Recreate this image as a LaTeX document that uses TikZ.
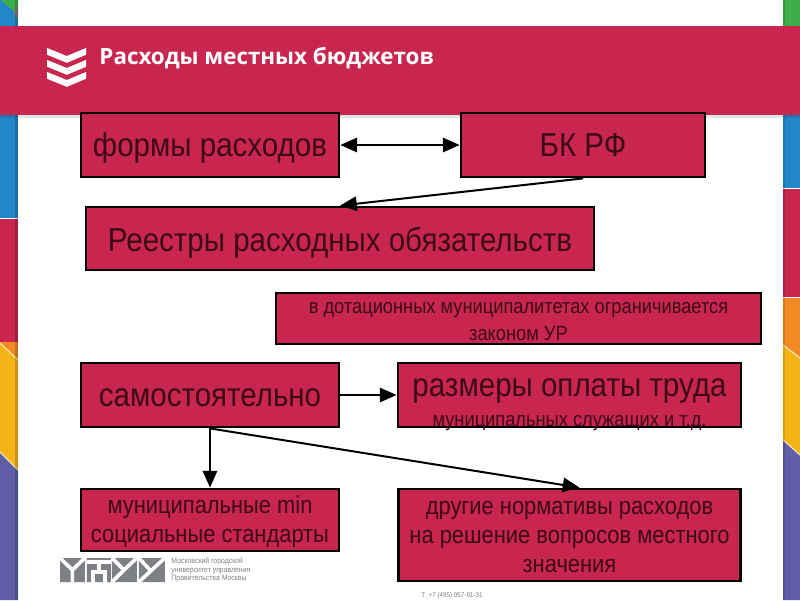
\documentclass[tikz,border=0pt]{standalone}
\usepackage{fontspec}
\setmainfont[FakeStretch=0.89]{Liberation Sans}
\newfontfamily\titlefont{Open Sans}
\usepackage{xcolor}
\usetikzlibrary{arrows.meta}
\definecolor{crimson}{HTML}{C8264E}
\definecolor{inkdark}{HTML}{3C0A18}
\definecolor{stripgreen}{HTML}{3DAE4A}
\definecolor{stripblue}{HTML}{2287C8}
\definecolor{striporange}{HTML}{F28A24}
\definecolor{stripyellow}{HTML}{F5B416}
\definecolor{strippurple}{HTML}{5F5FA8}
\definecolor{stripline}{HTML}{F7E3B0}
\definecolor{logogray}{HTML}{7D8085}
\tikzstyle{budget} = [rectangle, draw=black, line width=0.07cm, fill=crimson, text=inkdark, text centered, align=center, inner sep=0pt, text depth=0pt, text height=17pt, font=\fontsize{23.6}{28}\selectfont]
\tikzstyle{budgetsmall} = [budget, text height=31.5pt, font=\fontsize{17.5}{20.5}\selectfont]
\tikzstyle{arrow} = [line width=0.05cm,-{Triangle[length=0.42cm,width=0.36cm]}]
\tikzstyle{arrowboth} = [line width=0.05cm,{Triangle[length=0.42cm,width=0.36cm]}-{Triangle[length=0.42cm,width=0.36cm]}]
\begin{document}
\begin{tikzpicture}[node distance=2cm]
        \useasboundingbox (0,0) rectangle (20,15);
        % strips, left
        \fill [stripblue] (0,9.55) rectangle (0.45,15);
        \fill [stripgreen] (0.02,15) -- (0.45,15) -- (0.45,14.85) -- (0.35,14.72) -- cycle;
        \fill [gray] (0.45,14.85) -- (0.35,14.72) -- (0.38,14.55) -- (0.45,14.55) -- cycle;
        \fill [crimson] (0,6.45) rectangle (0.45,9.52);
        \fill [striporange] (0,6.45) rectangle (0.45,6);
        \fill [stripyellow] (0,6.425) -- (0.45,6) -- (0.45,3.25) -- (0,3.7) -- cycle;
        \fill [strippurple] (0,0) -- (0.45,0) -- (0.45,3.25) -- (0,3.7) -- cycle;
        \draw [stripline, line width=0.03cm] (0,6.425) -- (0.45,6) (0,3.7) -- (0.45,3.25);
        \fill [black, opacity=0.18] (0.38,0) rectangle (0.45,15);
        % strips, right
        \fill [stripgreen] (19.58,14) rectangle (20,15);
        \fill [stripblue] (19.58,10.3) rectangle (20,14);
        \fill [crimson] (19.58,7.575) rectangle (20,10.27);
        \fill [striporange] (19.58,7.55) rectangle (20,6);
        \fill [stripyellow] (19.58,6.375) -- (20,6.05) -- (20,3.625) -- (19.58,4) -- cycle;
        \fill [strippurple] (19.58,0) -- (20,0) -- (20,3.625) -- (19.58,4) -- cycle;
        \draw [stripline, line width=0.03cm] (19.58,6.375) -- (20,6.05) (19.58,4) -- (20,3.625);
        \fill [black, opacity=0.12] (19.58,0) rectangle (19.63,15);
        % banner
        \fill [black, opacity=0.1] (0,12.04) rectangle (20,12.12);
        \fill [crimson] (0,12.12) rectangle (20,14.35);
        \foreach \y in {13.8,13.5,13.2} {
            \fill [white] (1.18,\y) -- (1.67,\y-0.2) -- (2.15,\y) -- (2.15,\y-0.17) -- (1.67,\y-0.37) -- (1.18,\y-0.17) -- cycle;
        }
        \node (title) [anchor=west, inner sep=0pt, text=white, font=\titlefont\bfseries\fontsize{15.9}{18}\selectfont] at (2.48,13.55) {Расходы местных бюджетов};

        \node (forms) [budget, minimum width=6.45cm, minimum height=1.6cm] at (5.25,11.375) {формы расходов};
        \node (bk) [budget, right of=forms, xshift=7.325cm, minimum width=6.1cm, minimum height=1.6cm] {БК РФ};
        \node (registers) [budget, below of=forms, xshift=3.25cm, yshift=-0.3375cm, minimum width=12.7cm, minimum height=1.575cm, text height=18pt] {Реестры расходных обязательств};
        \node (subsidized) [budget, below of=registers, xshift=4.4625cm, minimum width=12.125cm, minimum height=1.275cm, text height=31.5pt, font=\fontsize{14.6}{19.2}\selectfont] {в дотационных муниципалитетах ограничивается\\законом УР};
        \node (self) [budget, below of=subsidized, xshift=-7.7125cm, yshift=0.0875cm, minimum width=6.45cm, minimum height=1.6cm] {самостоятельно};
        \node (pay) [budget, right of=self, xshift=6.9875cm, minimum width=8.575cm, minimum height=1.6cm, text height=45pt] {размеры оплаты труда\\[-6.5pt]{\fontsize{14.6}{17}\selectfont муниципальных служащих и т.д.}};
        \node (standards) [budgetsmall, below of=self, yshift=-1.125cm, minimum width=6.45cm, minimum height=1.55cm] {муниципальные min\\социальные стандарты};
        \node (norms) [budgetsmall, below of=pay, yshift=-1.5cm, minimum width=8.55cm, minimum height=2.3cm, text height=53.5pt] {другие нормативы расходов\\на решение вопросов местного\\значения};

        \draw [arrowboth] (forms) -- (bk);
        \draw [arrow] (bk.south) -- (registers.north);
        \draw [arrow] (self) -- (pay);
        \draw [arrow] (self.south) -- (standards.north);
        \draw [arrow] (self.south) -- ([xshift=0.25cm]norms.north);

        % logo
        \fill [logogray] (1.5,0.45) rectangle (2.12,1.05) (2.17,0.45) rectangle (2.78,1.05) (2.8,0.45) rectangle (3.42,1.05) (3.47,0.45) rectangle (4.12,1.05);
        \draw [white, line width=0.09cm] (1.5,1.05) -- (1.81,0.75) -- (2.12,1.05) (1.81,0.75) -- (1.81,0.45);
        \draw [white, line width=0.09cm] (2.17,0.95) -- (2.78,0.95) (2.47,0.95) -- (2.47,0.7) (2.32,0.45) -- (2.32,0.7) -- (2.62,0.7) -- (2.62,0.45);
        \draw [white, line width=0.09cm] (2.8,1.05) -- (3.1,0.75) -- (3.42,1.05) (3.1,0.75) -- (2.8,0.45);
        \draw [white, line width=0.09cm] (3.47,1.05) -- (3.75,0.75) (4.12,1.05) -- (3.47,0.45);
        \node (logotext) [anchor=west, inner sep=0pt, align=left, text=logogray, font=\fontsize{5.5}{6}\selectfont] at (4.28,0.75) {Московский городской\\университет управления\\Правительства Москвы};
        \node (phone) [inner sep=0pt, text=logogray, font=\fontsize{5}{6}\selectfont] at (11.3,0.12) {Т: +7 (495) 957-91-31};
    \end{tikzpicture}
\end{document}
